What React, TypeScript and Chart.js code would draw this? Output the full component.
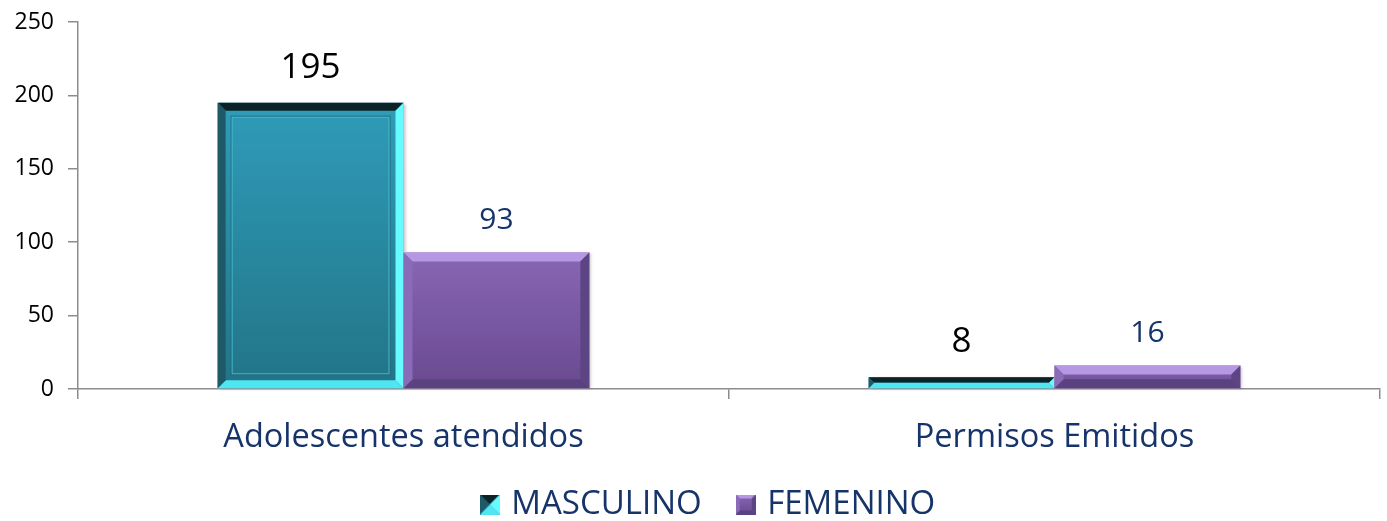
import React, { useEffect, useRef } from "react";
import { Chart, registerables } from "chart.js";

Chart.register(...registerables);

const categories = ["Adolescentes atendidos", "Permisos Emitidos"];
const seriesNames = ["MASCULINO", "FEMENINO"];
const masculino = [195, 8];
const femenino = [93, 16];
const yTicks = [0, 50, 100, 150, 200, 250];

const FONT = "'Open Sans', Lato, sans-serif";
const NAVY = "#17346A";
const AXIS = "#8C8C8C";

type Bevel = {
  mainTop: string;
  mainBottom: string;
  top: string;
  left: string;
  right: string;
  bottom: string;
  b: number;
  inner?: boolean;
};

const STYLES: Bevel[] = [
  {
    mainTop: "#2F9CB9",
    mainBottom: "#227487",
    top: "#0B2227",
    left: "#1E5968",
    right: "#66FBFF",
    bottom: "#4FE6F2",
    b: 8,
    inner: true,
  },
  {
    mainTop: "#8866B4",
    mainBottom: "#694A90",
    top: "#B597E3",
    left: "#8A6BB8",
    right: "#5D4484",
    bottom: "#5A4180",
    b: 9,
  },
];

function drawBevel(ctx: CanvasRenderingContext2D, x0: number, y0: number, x1: number, y1: number, s: Bevel) {
  const h = y1 - y0;
  const w = x1 - x0;
  if (h <= 0 || w <= 0) return;
  const b = Math.min(s.b, h / 2, w / 2);
  const g = ctx.createLinearGradient(0, y0, 0, y1);
  g.addColorStop(0, s.mainTop);
  g.addColorStop(1, s.mainBottom);
  ctx.fillStyle = g;
  ctx.fillRect(x0, y0, w, h);
  const poly = (pts: number[][], c: string) => {
    ctx.beginPath();
    ctx.moveTo(pts[0][0], pts[0][1]);
    for (let i = 1; i < pts.length; i++) ctx.lineTo(pts[i][0], pts[i][1]);
    ctx.closePath();
    ctx.fillStyle = c;
    ctx.fill();
  };
  poly([[x0, y0], [x1, y0], [x1 - b, y0 + b], [x0 + b, y0 + b]], s.top);
  poly([[x0, y1], [x1, y1], [x1 - b, y1 - b], [x0 + b, y1 - b]], s.bottom);
  poly([[x0, y0], [x0 + b, y0 + b], [x0 + b, y1 - b], [x0, y1]], s.left);
  poly([[x1, y0], [x1 - b, y0 + b], [x1 - b, y1 - b], [x1, y1]], s.right);
  if (s.inner && h > 40) {
    ctx.lineWidth = 1;
    ctx.strokeStyle = "#1F6878";
    ctx.strokeRect(x0 + 13.5, y0 + 13.5, w - 27, h - 27);
    ctx.strokeStyle = "#46B6CC";
    ctx.strokeRect(x0 + 14.5, y0 + 14.5, w - 29, h - 29);
  }
}

function legendIcon(s: Bevel, size: number, b: number): HTMLCanvasElement {
  const c = document.createElement("canvas");
  c.width = size;
  c.height = size;
  const ctx = c.getContext("2d")!;
  drawBevel(ctx, 0, 0, size, size, { ...s, b, inner: false });
  return c;
}

const legendShift = {
  id: "legendShift",
  afterLayout(chart: any) {
    if (chart.legend) {
      chart.legend.left += 20;
      chart.legend.right += 20;
    }
  },
};

const bevelPlugin = {
  id: "bevelBars",
  afterDatasetsDraw(chart: any) {
    const ctx: CanvasRenderingContext2D = chart.ctx;
    ctx.save();
    chart.data.datasets.forEach((ds: any, di: number) => {
      const meta = chart.getDatasetMeta(di);
      meta.data.forEach((el: any, i: number) => {
        const p = el.getProps(["x", "y", "base", "width"], true);
        const x0 = p.x - p.width / 2;
        const x1 = p.x + p.width / 2;
        ctx.save();
        ctx.shadowColor = "rgba(0,0,0,0.25)";
        ctx.shadowOffsetX = 2;
        ctx.shadowOffsetY = 1;
        ctx.shadowBlur = 3;
        ctx.fillStyle = "#fff";
        ctx.fillRect(x0, p.y, x1 - x0, p.base - p.y);
        ctx.restore();
        drawBevel(ctx, x0, p.y, x1, p.base, STYLES[di]);
        const v = ds.data[i];
        ctx.textAlign = "center";
        ctx.textBaseline = "middle";
        if (di === 0) {
          ctx.fillStyle = "#000";
          ctx.font = `35px ${FONT}`;
          ctx.fillText(String(v), p.x, p.y - 35);
        } else {
          ctx.fillStyle = NAVY;
          ctx.font = `30px ${FONT}`;
          ctx.fillText(String(v), p.x, p.y - 32);
        }
      });
    });
    ctx.restore();
  },
};

export default function App() {
  const ref = useRef<HTMLCanvasElement>(null);
  useEffect(() => {
    const icons = [legendIcon(STYLES[0], 20, 10), legendIcon(STYLES[1], 20, 4)];
    const chart = new Chart(ref.current!, {
      type: "bar",
      data: {
        labels: categories,
        datasets: [
          { label: seriesNames[0], data: masculino, backgroundColor: "rgba(0,0,0,0)", borderWidth: 0, barPercentage: 1, categoryPercentage: 0.571 },
          { label: seriesNames[1], data: femenino, backgroundColor: "rgba(0,0,0,0)", borderWidth: 0, barPercentage: 1, categoryPercentage: 0.571 },
        ],
      },
      options: {
        responsive: false,
        devicePixelRatio: 1,
        animation: false,
        layout: { padding: { top: 22, right: 7, left: 0, bottom: 0 } },
        plugins: {
          tooltip: { enabled: false },
          legend: {
            position: "bottom",
            labels: {
              usePointStyle: true,
              boxWidth: 10,
              color: NAVY,
              font: { family: FONT, size: 33 },
              padding: 39,
              generateLabels: (ch: any) =>
                ch.data.datasets.map((ds: any, i: number) => ({
                  text: ds.label,
                  pointStyle: icons[i],
                  fillStyle: "transparent",
                  strokeStyle: "transparent",
                  lineWidth: 0,
                  datasetIndex: i,
                  hidden: false,
                  fontColor: NAVY,
                })),
            },
          },
        },
        scales: {
          x: {
            afterFit: (s: any) => {
              s.height = 60;
              s.paddingLeft = 0;
              s.paddingRight = 0;
            },
            grid: { display: true, drawOnChartArea: false, offset: true, tickLength: 10, color: AXIS, lineWidth: 1.5 },
            border: { color: AXIS, width: 1.5 },
            ticks: { color: NAVY, font: { family: FONT, size: 32.5 }, padding: 19 },
          },
          y: {
            min: 0,
            max: 250,
            afterBuildTicks: (s: any) => {
              s.ticks = yTicks.map((v) => ({ value: v }));
            },
            afterFit: (s: any) => {
              s.width = 78;
              s.paddingTop = 0;
              s.paddingBottom = 0;
            },
            grid: { drawOnChartArea: false, tickLength: 10, color: AXIS, lineWidth: 1.5 },
            border: { color: AXIS, width: 1.5 },
            ticks: { color: "#000", font: { family: FONT, size: 23 }, padding: 14 },
          },
        },
      },
      plugins: [bevelPlugin, legendShift],
    } as any);
    return () => chart.destroy();
  }, []);
  return (
    <div style={{ position: "absolute", left: 0, top: 0, width: 1387, height: 521, overflow: "hidden", background: "#fff" }}>
      <canvas ref={ref} width={1387} height={531} />
    </div>
  );
}
